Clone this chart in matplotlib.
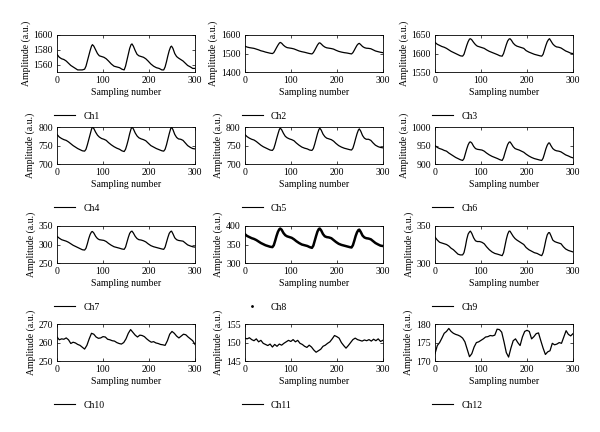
import numpy as np
from matplotlib import pyplot as plt
from matplotlib.lines import Line2D

plt.rcParams['font.family'] = ['Liberation Serif', 'DejaVu Serif']

# sample positions for the pulse-like channels (Ch1..Ch9)
x_pulse = [0, 5, 10, 15, 20, 25, 30, 35, 40, 45, 50, 55, 60, 63, 66, 69, 72, 75, 77, 80,
           84, 88, 92, 97, 102, 107, 112, 118, 124, 130, 136, 141, 146, 149, 152, 155, 158, 161, 163, 166,
           170, 174, 178, 183, 188, 193, 198, 204, 210, 216, 222, 228, 232, 235, 238, 241, 244, 247, 249, 252,
           256, 260, 264, 269, 274, 279, 284, 290, 295, 300]

ch1 = [1574, 1570, 1568, 1567, 1565, 1562, 1559, 1557, 1555, 1553, 1553, 1553, 1554, 1558, 1565, 1572, 1579, 1585, 1587, 1585,
       1580, 1575, 1572, 1571, 1570, 1568, 1565, 1561, 1558, 1557, 1556, 1554, 1553, 1558, 1566, 1574, 1582, 1587, 1588, 1585,
       1579, 1574, 1572, 1571, 1570, 1568, 1565, 1561, 1558, 1556, 1555, 1553, 1553, 1557, 1564, 1572, 1579, 1584, 1585, 1582,
       1575, 1571, 1569, 1567, 1565, 1562, 1559, 1557, 1555, 1555]
ch2 = [1540, 1535, 1532, 1530, 1528, 1524, 1520, 1515, 1512, 1508, 1505, 1502, 1500, 1505, 1518, 1532, 1545, 1556, 1560, 1556,
       1545, 1537, 1532, 1530, 1528, 1525, 1520, 1514, 1510, 1507, 1503, 1500, 1498, 1505, 1518, 1532, 1546, 1556, 1558, 1552,
       1542, 1535, 1531, 1529, 1527, 1524, 1518, 1512, 1508, 1505, 1503, 1500, 1498, 1505, 1518, 1532, 1545, 1553, 1555, 1548,
       1538, 1532, 1529, 1528, 1526, 1520, 1514, 1510, 1507, 1505]
ch3 = [1630, 1625, 1622, 1619, 1617, 1614, 1610, 1606, 1603, 1600, 1597, 1594, 1593, 1598, 1610, 1622, 1632, 1639, 1640, 1637,
       1630, 1624, 1620, 1618, 1616, 1614, 1610, 1606, 1603, 1600, 1597, 1594, 1593, 1600, 1612, 1624, 1634, 1639, 1640, 1636,
       1628, 1623, 1620, 1618, 1616, 1614, 1608, 1604, 1601, 1598, 1596, 1594, 1593, 1598, 1610, 1622, 1632, 1638, 1640, 1634,
       1626, 1621, 1618, 1617, 1615, 1611, 1607, 1604, 1601, 1600]
ch4 = [780, 773, 769, 766, 764, 760, 755, 750, 746, 742, 739, 736, 735, 740, 752, 766, 780, 794, 800, 796,
       786, 778, 773, 769, 767, 764, 758, 752, 747, 743, 740, 736, 734, 740, 752, 766, 782, 795, 800, 795,
       784, 776, 771, 768, 766, 763, 757, 750, 746, 742, 739, 736, 735, 740, 752, 767, 782, 795, 800, 793,
       780, 772, 768, 767, 764, 757, 750, 745, 742, 741]
ch5 = [780, 774, 770, 767, 765, 761, 756, 751, 747, 744, 741, 738, 737, 742, 754, 768, 781, 793, 797, 793,
       783, 775, 771, 768, 766, 763, 757, 751, 746, 743, 741, 738, 737, 742, 754, 768, 782, 793, 797, 792,
       781, 774, 770, 768, 766, 762, 756, 750, 746, 743, 741, 739, 738, 743, 755, 769, 782, 792, 795, 789,
       777, 770, 767, 767, 764, 757, 751, 747, 745, 744]
ch6 = [950, 945, 942, 940, 937, 935, 930, 926, 922, 918, 915, 912, 910, 915, 928, 941, 952, 959, 960, 957,
       948, 942, 940, 939, 938, 935, 930, 925, 921, 918, 915, 912, 910, 917, 930, 942, 953, 959, 960, 955,
       947, 942, 940, 938, 935, 932, 927, 922, 918, 915, 913, 911, 910, 916, 928, 941, 951, 957, 957, 950,
       942, 938, 936, 935, 933, 929, 925, 922, 919, 917]
ch7 = [322, 317, 313, 311, 309, 306, 302, 298, 295, 292, 289, 286, 285, 290, 302, 316, 327, 334, 335, 331,
       322, 316, 313, 312, 311, 308, 303, 298, 294, 292, 290, 288, 287, 293, 306, 319, 330, 335, 336, 331,
       322, 316, 313, 312, 310, 307, 302, 297, 294, 292, 290, 288, 287, 293, 306, 319, 330, 335, 336, 329,
       318, 313, 311, 310, 309, 304, 299, 296, 294, 293]
ch8 = [378, 373, 370, 367, 365, 362, 358, 354, 351, 348, 346, 344, 343, 348, 360, 373, 384, 391, 393, 390,
       381, 375, 372, 370, 368, 364, 359, 354, 350, 348, 346, 343, 341, 347, 360, 373, 385, 392, 393, 388,
       378, 372, 370, 369, 367, 362, 357, 352, 349, 347, 345, 343, 342, 348, 360, 373, 383, 389, 390, 384,
       374, 369, 367, 366, 364, 359, 354, 350, 347, 346]
ch9 = [335, 331, 328, 327, 326, 325, 323, 320, 318, 315, 312, 311, 311, 314, 322, 332, 339, 342, 343, 340,
       334, 330, 329, 329, 328, 326, 322, 318, 315, 313, 312, 311, 310, 314, 323, 332, 339, 343, 343, 340,
       336, 333, 331, 329, 327, 325, 321, 318, 316, 314, 313, 311, 310, 314, 322, 331, 338, 341, 341, 337,
       331, 329, 328, 327, 326, 322, 319, 317, 316, 315]

# noisy channels, every 5 samples
x_noisy = list(range(0, 301, 5))
ch10 = [263, 261.5, 262, 261.8, 262.5, 261.5, 259.5, 260.2, 259.8, 259, 258.5, 257.5, 256.5, 258.5, 262, 265,
        264.5, 263, 262.3, 262.5, 263.2, 263, 261.8, 261.5, 261, 260.8, 260, 259.5, 259.2, 260, 262, 265,
        267, 265.5, 264, 263, 264, 263.8, 263.2, 262, 261, 260.2, 260.5, 259.8, 259.5, 259, 258.8, 258.5,
        261, 264.5, 266, 265, 263.5, 262.5, 263.5, 264.5, 264.2, 263, 262, 261, 259]
ch11 = [151.2, 151, 151.3, 150.8, 150.5, 151, 150.2, 150.6, 149.8, 149.5, 149.2, 149.6, 148.8, 149.5, 149, 149.6,
        149.3, 149.8, 150.2, 150.6, 150.3, 150.8, 150.2, 150.6, 149.8, 149.5, 149, 148.7, 149.3, 148.8, 148, 147.4,
        147.8, 148.2, 149, 149.3, 149.8, 150.2, 151, 151.9, 151.6, 151.2, 150, 149.2, 148.5, 149.2, 150, 150.8,
        151.2, 150.8, 150.6, 150.4, 150.7, 150.5, 150.8, 150.4, 150.9, 150.5, 151, 150.3, 150.6]
ch12 = [172, 174.2, 175, 176.2, 177.5, 178, 178.8, 178, 177.5, 177.2, 177, 176.7, 176.2, 175.2, 173.2, 171.2,
        172, 173.8, 175, 175.2, 175.6, 176, 176.5, 176.6, 176.9, 176.8, 177, 178.6, 178.5, 177.8, 175.2, 172.3,
        171.1, 173.5, 175.5, 176, 175, 174.2, 176.5, 178, 178.3, 178, 176, 176.6, 177.4, 177.6, 175.5, 173.5,
        171.8, 172.5, 172.8, 174.8, 174.4, 174.6, 175, 174.8, 176.5, 178.2, 177.2, 176.8, 177.4]

names = ['Ch%d' % i for i in range(1, 13)]
series = [ch1, ch2, ch3, ch4, ch5, ch6, ch7, ch8, ch9, ch10, ch11, ch12]
ylims = [(1550, 1600), (1400, 1600), (1550, 1650), (700, 800), (700, 800), (900, 1000),
         (250, 350), (300, 400), (300, 350), (250, 270), (145, 155), (170, 180)]
yticks = [[1560, 1580, 1600], [1400, 1500, 1600], [1550, 1600, 1650], [700, 750, 800], [700, 750, 800],
          [900, 950, 1000], [250, 300, 350], [300, 350, 400], [300, 350], [250, 260, 270],
          [145, 150, 155], [170, 175, 180]]

fig = plt.figure(figsize=(6, 4.32), dpi=100)
lefts = [0.095, 0.408, 0.725]
bottoms = [0.833, 0.620, 0.391, 0.164]

for i in range(12):
    r, c = divmod(i, 3)
    ax = fig.add_axes([lefts[c], bottoms[r], 0.23, 0.086])
    x = x_pulse if i < 9 else x_noisy
    if i == 7:
        ax.plot(x, series[i], color='k', lw=1.8)
        handles = [Line2D([], [], color='k', marker='.', ms=2, ls='none')]
    else:
        ax.plot(x, series[i], color='k', lw=0.9)
        handles = [Line2D([], [], color='k', lw=0.8)]
    ax.set_xlim(0, 300)
    ax.set_ylim(*ylims[i])
    ax.set_xticks([0, 100, 200, 300])
    ax.set_yticks(yticks[i])
    ax.tick_params(direction='in', top=True, right=True, length=2, width=0.5,
                   labelsize=7, pad=3)
    for s in ax.spines.values():
        s.set_linewidth(0.6)
    ax.set_xlabel('Sampling number', fontsize=7, labelpad=2)
    ax.set_ylabel('Amplitude (a.u.)', fontsize=7, labelpad=2)
    ax.legend(handles, [names[i]], loc='center left', bbox_to_anchor=(-0.05, -1.19),
              frameon=False, fontsize=7, handlelength=2.2, handletextpad=0.8,
              borderaxespad=0)

fig.savefig('out.png', dpi=100)
